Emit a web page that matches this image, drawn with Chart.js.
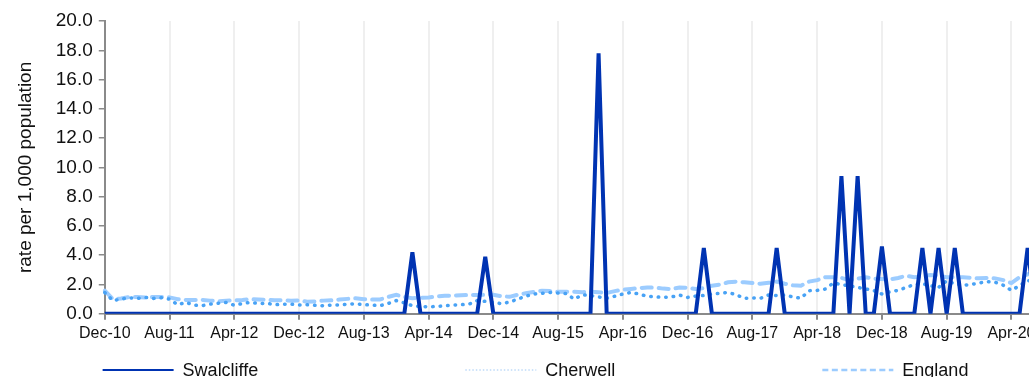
<!DOCTYPE html>
<html>
<head>
<meta charset="utf-8">
<script src="https://cdn.jsdelivr.net/npm/chart.js@4"></script>
<style>
  html, body { margin: 0; padding: 0; background: #fff; overflow: hidden; }
  #wrap { width: 1071px; height: 395px; }
</style>
</head>
<body>
<div id="wrap"><canvas id="chart" width="1071" height="395"></canvas></div>
<script>
// monthly series, Dec-10 onwards
const monthNames = ['Jan', 'Feb', 'Mar', 'Apr', 'May', 'Jun', 'Jul', 'Aug', 'Sep', 'Oct', 'Nov', 'Dec'];
const startYear = 2010;
const startMonth = 11; // Dec
const tickEvery = 8;

const swalcliffe = [
    0, 0, 0, 0, 0, 0, 0, 0, 0, 0, 0, 0,
    0, 0, 0, 0, 0, 0, 0, 0, 0, 0, 0, 0,
    0, 0, 0, 0, 0, 0, 0, 0, 0, 0, 0, 0,
    0, 0, 4.2, 0, 0, 0, 0, 0, 0, 0, 0, 3.9,
    0, 0, 0, 0, 0, 0, 0, 0, 0, 0, 0, 0,
    0, 17.8, 0, 0, 0, 0, 0, 0, 0, 0, 0, 0,
    0, 0, 4.5, 0, 0, 0, 0, 0, 0, 0, 0, 4.5,
    0, 0, 0, 0, 0, 0, 0, 9.4, 0, 9.4, 0, 0,
    4.6, 0, 0, 0, 0, 4.5, 0, 4.5, 0, 4.5, 0, 0,
    0, 0, 0, 0, 0, 0, 4.5, 0, 0, 0, 0
];

const cherwell = [
    1.45, 0.9, 1.0, 1.1, 1.05, 1.12, 1.05, 1.1, 1.0, 0.62, 0.78, 0.6,
    0.55, 0.66, 0.72, 0.78, 0.58, 0.7, 0.78, 0.7, 0.72, 0.62, 0.65, 0.66,
    0.6, 0.62, 0.58, 0.55, 0.6, 0.6, 0.66, 0.69, 0.62, 0.6, 0.55, 0.7,
    0.9, 0.75, 0.55, 0.5, 0.48, 0.5, 0.55, 0.6, 0.62, 0.66, 0.9, 0.85,
    0.78, 0.69, 0.8, 1.0, 1.2, 1.35, 1.4, 1.46, 1.42, 1.38, 1.0, 1.3,
    1.25, 1.15, 1.06, 1.2, 1.35, 1.46, 1.35, 1.2, 1.16, 1.12, 1.15, 1.28,
    1.12, 1.21, 1.25, 1.35, 1.4, 1.46, 1.3, 1.06, 1.08, 1.06, 1.28, 1.25,
    1.28, 1.15, 1.06, 1.58, 1.6, 1.69, 2.1, 2.0, 1.9, 1.8, 1.7, 1.58,
    1.35, 1.5, 1.6, 1.8, 2.0, 2.05, 1.92, 1.8, 2.26, 2.05, 1.95, 2.0,
    2.1, 2.2, 2.15, 1.95, 1.6, 1.92, 2.26, 2.3, 2.25, 2.35, 2.3
];

const england = [
    1.58, 1.0, 1.05, 1.15, 1.15, 1.12, 1.15, 1.15, 1.12, 1.0, 0.95, 0.95,
    0.95, 0.9, 0.85, 0.9, 0.92, 0.95, 1.0, 0.97, 0.95, 0.92, 0.92, 0.9,
    0.92, 0.82, 0.85, 0.9, 0.92, 0.97, 1.02, 1.06, 1.0, 0.97, 0.98, 1.15,
    1.3, 1.15, 1.06, 1.1, 1.12, 1.18, 1.23, 1.25, 1.27, 1.28, 1.28, 1.3,
    1.3, 1.2, 1.16, 1.3, 1.4, 1.5, 1.58, 1.55, 1.5, 1.5, 1.5, 1.48,
    1.5, 1.48, 1.42, 1.55, 1.65, 1.7, 1.75, 1.8, 1.78, 1.72, 1.69, 1.8,
    1.78, 1.69, 1.75, 1.92, 2.0, 2.15, 2.2, 2.15, 2.1, 2.05, 2.12, 2.2,
    2.05, 1.95, 1.92, 2.2, 2.3, 2.5, 2.5, 2.45, 2.3, 2.4, 2.5, 2.4,
    2.37, 2.35, 2.45, 2.6, 2.5, 2.55, 2.65, 2.6, 2.5, 2.5, 2.5, 2.45,
    2.42, 2.45, 2.42, 2.3, 2.1, 2.5, 2.7, 2.75, 2.7, 2.8, 2.75
];

const months = swalcliffe.map((v, i) => {
    const m = startMonth + i;
    const yr = startYear + Math.floor(m / 12);
    return monthNames[m % 12] + '-' + String(yr % 100).padStart(2, '0');
});

const axisGrey = '#8a8a8a';
const fontFamily = "Arial, 'Liberation Sans', Helvetica, sans-serif";
Chart.defaults.font.family = fontFamily;
Chart.defaults.color = '#111';

// legend drawn under the axis, three wide columns
const lineLegend = {
    id: 'lineLegend',
    afterDraw(chart, args, opts) {
        const ctx = chart.ctx;
        ctx.save();
        ctx.font = opts.size + 'px ' + fontFamily;
        const items = chart.data.datasets.map(ds => ({
            ds: ds,
            w: opts.sampleWidth + opts.gap + ctx.measureText(ds.label).width
        }));
        const total = items.reduce((s, it) => s + it.w, 0) + opts.spacing * (items.length - 1);
        let x = (chart.width - total) / 2;
        const y = chart.scales.x.bottom + opts.offset;
        items.forEach(it => {
            const st = it.ds.legendLine;
            ctx.beginPath();
            ctx.setLineDash(st.dash);
            ctx.lineWidth = st.width;
            ctx.strokeStyle = st.color;
            ctx.lineCap = 'butt';
            ctx.moveTo(x, y);
            ctx.lineTo(x + opts.sampleWidth, y);
            ctx.stroke();
            ctx.setLineDash([]);
            ctx.fillStyle = '#111';
            ctx.textAlign = 'left';
            ctx.textBaseline = 'alphabetic';
            ctx.fillText(it.ds.label, x + opts.sampleWidth + opts.gap, y + opts.size * 0.36);
            x += it.w + opts.spacing;
        });
        ctx.restore();
    }
};

new Chart(document.getElementById('chart'), {
    type: 'line',
    data: {
        labels: months,
        datasets: [{
            label: 'Swalcliffe',
            data: swalcliffe,
            borderColor: 'rgb(0, 51, 178)',
            borderWidth: 4,
            borderJoinStyle: 'bevel',
            clip: {left: 5, top: 5, right: 5, bottom: 0},
            legendLine: {color: 'rgb(0, 51, 178)', width: 2, dash: []}
        }, {
            label: 'Cherwell',
            data: cherwell,
            borderColor: 'rgb(72, 162, 245)',
            borderWidth: 3.5,
            borderDash: [0.5, 7],
            borderCapStyle: 'round',
            legendLine: {color: 'rgb(190, 218, 248)', width: 1.5, dash: [1.5, 2]}
        }, {
            label: 'England',
            data: england,
            borderColor: 'rgb(156, 204, 255)',
            borderWidth: 4,
            borderDash: [10, 7],
            borderCapStyle: 'round',
            legendLine: {color: 'rgb(156, 204, 255)', width: 2.5, dash: [6, 3.5]}
        }]
    },
    options: {
        responsive: false,
        animation: false,
        elements: {
            point: {radius: 0},
            line: {tension: 0}
        },
        layout: {
            padding: {left: 10, right: 11, top: 21, bottom: 48}
        },
        scales: {
            x: {
                border: {color: axisGrey, width: 2},
                grid: {
                    color: ctx => ctx.index % tickEvery === 0 ? '#efefef' : 'rgba(0,0,0,0)',
                    tickColor: ctx => ctx.index % tickEvery === 0 ? axisGrey : 'rgba(0,0,0,0)',
                    lineWidth: 2,
                    tickLength: 6
                },
                ticks: {
                    autoSkip: false,
                    maxRotation: 0,
                    minRotation: 0,
                    padding: 4,
                    font: {size: 16},
                    callback: function (value, index) {
                        return index % tickEvery === 0 ? this.getLabelForValue(value) : '';
                    }
                }
            },
            y: {
                min: 0,
                max: 20,
                border: {color: axisGrey, width: 2},
                grid: {
                    drawOnChartArea: false,
                    tickColor: axisGrey,
                    tickLength: 6,
                    lineWidth: 1.5
                },
                ticks: {
                    stepSize: 2,
                    padding: 6,
                    font: {size: 19},
                    callback: v => v.toFixed(1)
                },
                title: {
                    display: true,
                    text: 'rate per 1,000 population',
                    font: {size: 19},
                    color: '#111',
                    padding: {top: 4, bottom: 13}
                }
            }
        },
        plugins: {
            legend: {display: false},
            tooltip: {enabled: false},
            lineLegend: {
                size: 18,
                sampleWidth: 71,
                gap: 9,
                spacing: 207,
                offset: 23
            }
        }
    },
    plugins: [lineLegend]
});
</script>
</body>
</html>
